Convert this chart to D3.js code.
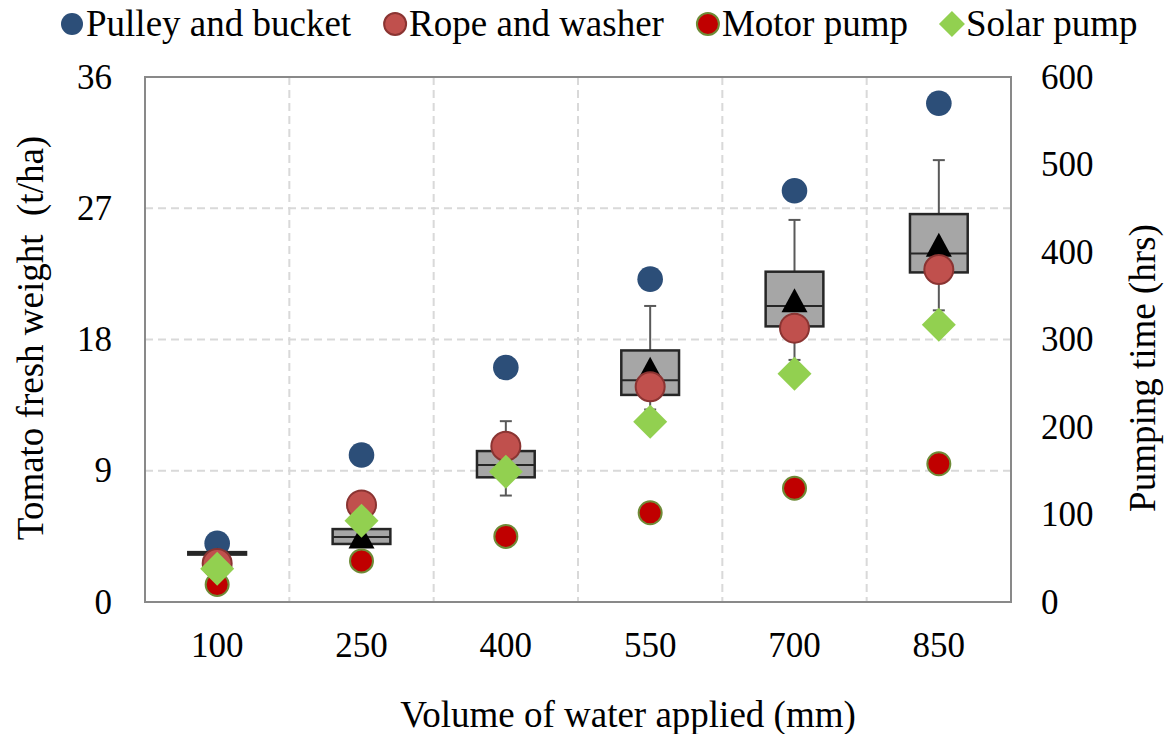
<!DOCTYPE html>
<html>
<head>
<meta charset="utf-8">
<script src="https://cdn.jsdelivr.net/npm/d3@7"></script>
<style>
  body { margin: 0; background: #fff; }
</style>
</head>
<body>
<svg id="chart" width="1167" height="734"></svg>
<script>
// Volume of water applied (mm)
const categories = ['100', '250', '400', '550', '700', '850'];

// Pumping time (hrs), right axis
const pulleyHrs = [67, 168, 268, 369, 470, 570];
const ropeHrs = [44, 111, 178, 246, 313, 380];
const motorHrs = [20, 47, 75, 102, 130, 158];
const solarHrs = [38, 93, 149, 206, 261, 317];

// Tomato fresh weight (t/ha), left axis box plots
const yieldMin = [3.25, 3.98, 7.3, 13.2, 16.6, 20.0];
const yieldQ1 = [3.25, 3.98, 8.55, 14.2, 18.9, 22.6];
const yieldMedian = [3.3, 4.45, 9.4, 15.2, 20.3, 23.9];
const yieldQ3 = [3.42, 5.0, 10.35, 17.25, 22.65, 26.6];
const yieldMax = [3.42, 5.0, 12.4, 20.3, 26.2, 30.3];
const yieldMean = [2.9, 4.5, 9.6, 16.0, 20.7, 24.5];

const leftTicks = [0, 9, 18, 27, 36];
const rightTicks = [0, 100, 200, 300, 400, 500, 600];

const seriesNames = ['Pulley and bucket', 'Rope and washer', 'Motor pump', 'Solar pump'];

const FONT = '"Liberation Serif", "Times New Roman", serif';

const svg = d3.select('svg#chart');
const W = +svg.attr('width');
const H = +svg.attr('height');
const margin = {top: 77, right: 156, bottom: 132, left: 145};
const width = W - margin.left - margin.right;
const height = H - margin.top - margin.bottom;

const g = svg.append('g').attr('transform', `translate(${margin.left},${margin.top})`);

const x = d3.scaleBand().domain(categories).range([0, width]);
const y = d3.scaleLinear().domain([0, 36]).range([height, 0]);
const y2 = d3.scaleLinear().domain([0, 600]).range([height, 0]);

// styles per series
const styles = [
  {fill: '#2C4E78', stroke: 'none', sw: 0, r: 12.8, shape: 'circle'},
  {fill: '#C0504D', stroke: '#8A3432', sw: 2, r: 14.5, shape: 'circle'},
  {fill: '#C00000', stroke: '#6E8B37', sw: 2, r: 11.5, shape: 'circle'},
  {fill: '#92D050', stroke: 'none', sw: 0, r: 17, shape: 'diamond'}
];
const hrsSeries = [pulleyHrs, ropeHrs, motorHrs, solarHrs];

// gridlines
g.append('g')
  .selectAll('line')
  .data(leftTicks.slice(1, -1))
  .join('line')
    .attr('x1', 0).attr('x2', width)
    .attr('y1', d => y(d)).attr('y2', d => y(d))
    .attr('stroke', '#D9D9D9').attr('stroke-width', 2).attr('stroke-dasharray', '8,5');

g.append('g')
  .selectAll('line')
  .data(categories.slice(1))
  .join('line')
    .attr('x1', d => x(d)).attr('x2', d => x(d))
    .attr('y1', 0).attr('y2', height)
    .attr('stroke', '#D9D9D9').attr('stroke-width', 2).attr('stroke-dasharray', '8,5');

// axes (labels only)
const axisFont = 35;
const styleAxis = sel => {
  sel.attr('font-family', null).attr('font-size', null);
  sel.select('.domain').remove();
  sel.selectAll('text').style('font-size', axisFont + 'px').style('font-family', FONT).attr('fill', '#000');
};

g.append('g')
  .call(d3.axisLeft(y).tickValues(leftTicks).tickSize(0).tickPadding(33))
  .call(styleAxis);

g.append('g')
  .attr('transform', `translate(${width},0)`)
  .call(d3.axisRight(y2).tickValues(rightTicks).tickSize(0).tickPadding(30))
  .call(styleAxis);

g.append('g')
  .attr('transform', `translate(0,${height})`)
  .call(d3.axisBottom(x).tickSize(0).tickPadding(30))
  .call(styleAxis);

function drawMarker (sel, st, cx, cy, r) {
  if (st.shape === 'diamond') {
    const s = r * Math.SQRT2;
    sel.append('rect')
      .attr('x', -s / 2).attr('y', -s / 2).attr('width', s).attr('height', s)
      .attr('transform', `translate(${cx},${cy}) rotate(45)`)
      .attr('fill', st.fill);
  } else {
    sel.append('circle')
      .attr('cx', cx).attr('cy', cy).attr('r', r)
      .attr('fill', st.fill)
      .attr('stroke', st.stroke).attr('stroke-width', st.sw);
  }
}

function drawSeries (i) {
  const layer = g.append('g');
  hrsSeries[i].forEach((v, j) => {
    drawMarker(layer, styles[i], x(categories[j]) + x.bandwidth() / 2, y2(v), styles[i].r);
  });
}

// pulley first, then boxes, then the other series on top
drawSeries(0);

const boxW = x.bandwidth() * 0.4;
const capW = 12;
const boxes = g.append('g');
categories.forEach((c, j) => {
  const cx = x(c) + x.bandwidth() / 2;
  const b = boxes.append('g');
  // whiskers
  b.append('line')
    .attr('x1', cx).attr('x2', cx)
    .attr('y1', y(yieldQ3[j])).attr('y2', y(yieldMax[j]))
    .attr('stroke', '#595959').attr('stroke-width', 2);
  b.append('line')
    .attr('x1', cx).attr('x2', cx)
    .attr('y1', y(yieldQ1[j])).attr('y2', y(yieldMin[j]))
    .attr('stroke', '#595959').attr('stroke-width', 2);
  [yieldMax[j], yieldMin[j]].forEach(v => {
    b.append('line')
      .attr('x1', cx - capW / 2).attr('x2', cx + capW / 2)
      .attr('y1', y(v)).attr('y2', y(v))
      .attr('stroke', '#595959').attr('stroke-width', 2);
  });
  // box
  b.append('rect')
    .attr('x', cx - boxW / 2).attr('width', boxW)
    .attr('y', y(yieldQ3[j])).attr('height', y(yieldQ1[j]) - y(yieldQ3[j]))
    .attr('fill', '#A6A6A6').attr('stroke', '#262626').attr('stroke-width', 2.5);
  b.append('line')
    .attr('x1', cx - boxW / 2).attr('x2', cx + boxW / 2)
    .attr('y1', y(yieldMedian[j])).attr('y2', y(yieldMedian[j]))
    .attr('stroke', '#262626').attr('stroke-width', 2);
  // mean
  b.append('path')
    .attr('d', `M${cx},${y(yieldMean[j]) - 12}L${cx + 13},${y(yieldMean[j]) + 12}L${cx - 13},${y(yieldMean[j]) + 12}Z`)
    .attr('fill', '#000');
});

drawSeries(1);
drawSeries(2);
drawSeries(3);

// plot border
g.append('rect')
  .attr('width', width).attr('height', height)
  .attr('fill', 'none').attr('stroke', '#898989').attr('stroke-width', 2);

function title (sel, size) {
  return sel.attr('text-anchor', 'middle')
    .style('font-size', size + 'px').style('font-family', FONT);
}

// axis titles
svg.append('text')
  .attr('transform', 'translate(43,338) rotate(-90)')
  .call(title, 37)
  .text('Tomato fresh weight\u00a0\u00a0(t/ha)');

svg.append('text')
  .attr('transform', 'translate(1155,368) rotate(-90)')
  .call(title, 37)
  .text('Pumping time (hrs)');

svg.append('text')
  .attr('x', 628).attr('y', 727)
  .call(title, 37)
  .text('Volume of water applied (mm)');

// legend
const legend = svg.append('g');
let lx = 61;
seriesNames.forEach((name, i) => {
  const st = styles[i];
  const r = st.shape === 'diamond' ? 13 : 11;
  drawMarker(legend, st, lx + 11, 24, r);
  const t = legend.append('text')
    .attr('x', lx + 25).attr('y', 36)
    .style('font-size', '37px').style('font-family', FONT)
    .text(name);
  lx += 25 + t.node().getComputedTextLength() + 33;
});
</script>
</body>
</html>
